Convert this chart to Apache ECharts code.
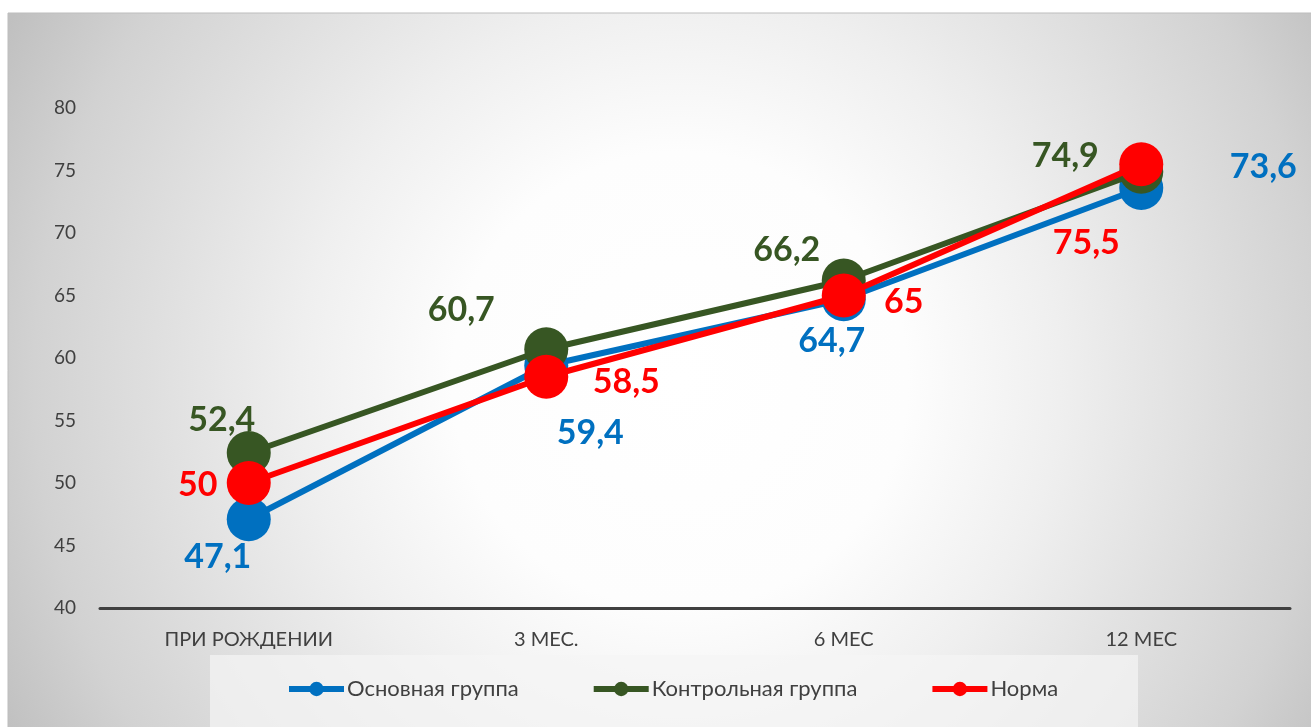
<!DOCTYPE html>
<html><head><meta charset="utf-8">
<script src="https://cdn.jsdelivr.net/npm/echarts@6/dist/echarts.min.js"></script>
<style>html,body{margin:0;padding:0;background:#fff}#c{width:1311px;height:727px}</style>
</head><body><div id="c"></div>
<script>
const categories = ['ПРИ РОЖДЕНИИ', '3 МЕС.', '6 МЕС', '12 МЕС'];
const mainGroup = [47.1, 59.4, 64.7, 73.6];
const controlGroup = [52.4, 60.7, 66.2, 74.9];
const normGroup = [50, 58.5, 65, 75.5];
const seriesNames = ['Основная группа', 'Контрольная группа', 'Норма'];
const yTicks = [40, 45, 50, 55, 60, 65, 70, 75, 80];

const labelOffsets = {
  main: [[-31, 38], [44, 68], [-12, 42], [122, -21]],
  control: [[-27, -33], [-85, -39], [-57, -30], [-76, -16]],
  norm: [[-51, 2], [80, 5], [60, 7], [-55, 79]]
};

const chart = echarts.init(document.getElementById('c'));
const fnt = 'Lato, "Open Sans", sans-serif';

function mk(name, values, color, offs, z) {
  return {
    name: name, type: 'line', data: values.map((v, i) => ({
      value: v,
      label: { offset: offs[i] }
    })),
    z: z,
    symbol: 'circle', symbolSize: 44,
    lineStyle: { color: color, width: 6 },
    itemStyle: { color: color },
    label: {
      show: true, position: 'inside', color: color, fontSize: 34, fontWeight: 'bold',
      fontFamily: fnt, align: 'center', verticalAlign: 'middle',
      formatter: p => String(p.value).replace('.', ',')
    },
    emphasis: { disabled: true },
    animation: false
  };
}

chart.setOption({
  animation: false,
  graphic: [
    { type: 'rect', z: -10, silent: true, shape: { x: 8, y: 13, width: 1310, height: 720 },
      style: { stroke: '#bdbdbd', lineWidth: 1,
        fill: new echarts.graphic.RadialGradient(680, 380, 760, [
          { offset: 0, color: '#ffffff' }, { offset: 0.3, color: '#fdfdfd' },
          { offset: 0.5, color: '#efefef' }, { offset: 0.85, color: '#d2d2d2' },
          { offset: 1, color: '#c0c0c0' }], true) } },
    { type: 'rect', z: -9, silent: true, shape: { x: 210, y: 655, width: 928, height: 80 },
      style: { fill: 'rgba(245,245,245,0.7)' } }
  ],
  grid: { left: 100, right: 21, top: 108, bottom: 119, containLabel: false },
  legend: {
    bottom: 22, left: 281, itemWidth: 55, itemHeight: 18, itemGap: 72,
    textStyle: { fontSize: 22, color: '#404040', fontFamily: fnt, padding: [0, 0, 0, -2] },
    lineStyle: { width: 6 },
    data: seriesNames
  },
  xAxis: {
    type: 'category', data: categories, boundaryGap: true,
    axisLine: { lineStyle: { color: '#404040', width: 3 } },
    axisTick: { show: false },
    axisLabel: { fontSize: 20, color: '#404040', margin: 22, fontFamily: fnt }
  },
  yAxis: {
    type: 'value', min: yTicks[0], max: yTicks[yTicks.length - 1], interval: 5,
    axisLine: { show: false }, axisTick: { show: false }, splitLine: { show: false },
    axisLabel: { fontSize: 19, color: '#404040', margin: 24, fontFamily: fnt }
  },
  series: [
    mk(seriesNames[0], mainGroup, '#0070C0', labelOffsets.main, 2),
    mk(seriesNames[1], controlGroup, '#375623', labelOffsets.control, 3),
    mk(seriesNames[2], normGroup, '#FF0000', labelOffsets.norm, 4)
  ]
});
</script></body></html>
